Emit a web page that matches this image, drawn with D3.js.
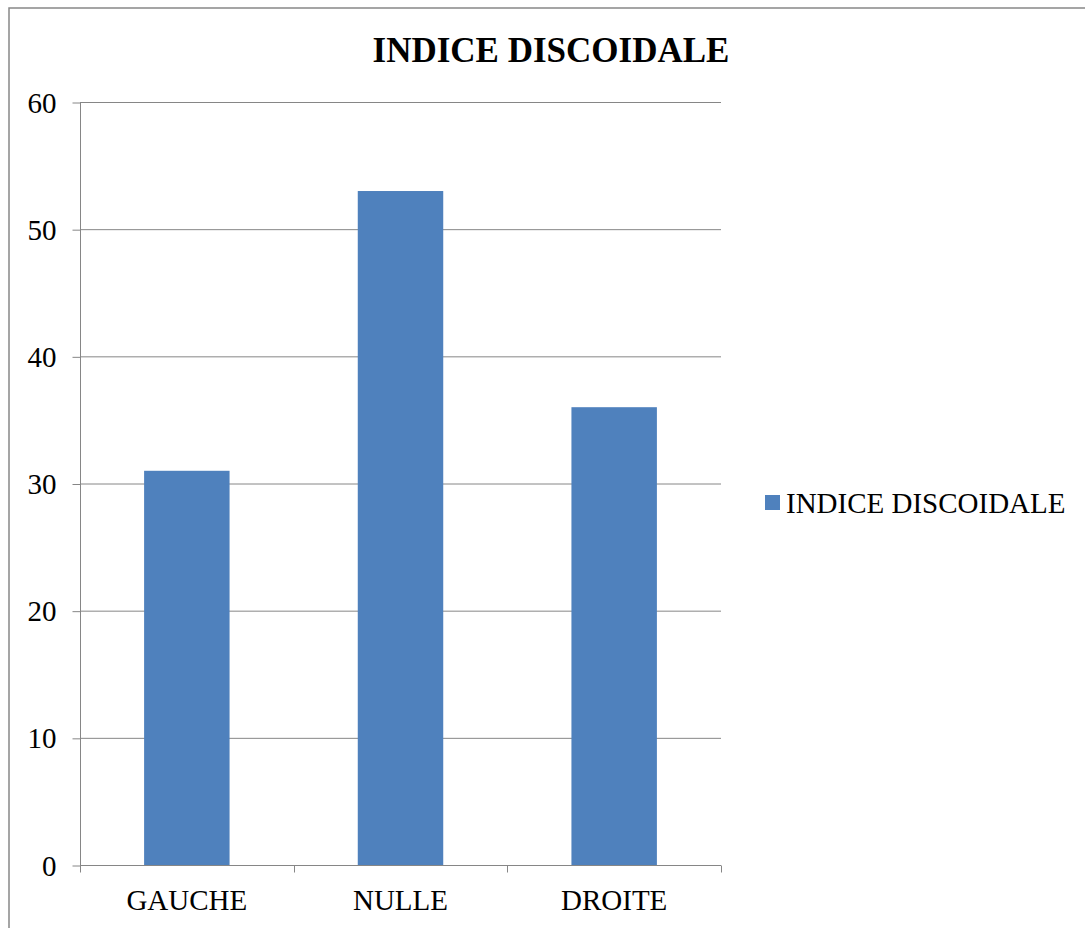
<!DOCTYPE html>
<html><head><meta charset="utf-8">
<script src="https://cdn.jsdelivr.net/npm/d3@7"></script>
<style>body{margin:0;background:#fff}svg{display:block}</style>
</head><body>
<script>
const categories = ["GAUCHE", "NULLE", "DROITE"];
const values = [31, 53, 36];
const yTicks = [0, 10, 20, 30, 40, 50, 60];
const seriesName = "INDICE DISCOIDALE";
const title = "INDICE DISCOIDALE";

(function () {
const W = 1085, H = 928;
const svg = d3.select("body").append("svg").attr("width", W).attr("height", H);
const font = "'Liberation Serif','Times New Roman',serif";

svg.append("rect").attr("x", 9).attr("y", 8).attr("width", W + 20).attr("height", H + 20)
  .attr("fill", "#fff").attr("stroke", "#888").attr("stroke-width", 1.5);

const pL = 80, pR = 721, pT = 102, pB = 865;
const x = d3.scaleBand().domain(categories).range([pL, pR]).paddingInner(0.6).paddingOuter(0.3);
const y = d3.scaleLinear().domain([0, 60]).range([pB, pT]);

// gridlines
svg.append("g").selectAll("line").data(yTicks.filter(d => d > 0)).join("line")
  .attr("x1", pL).attr("x2", pR).attr("y1", d => y(d) + 0.5).attr("y2", d => y(d) + 0.5)
  .attr("stroke", "#868686").attr("stroke-width", 1);

// y axis
const ya = svg.append("g").attr("transform", `translate(${pL + 0.5},0)`)
  .call(d3.axisLeft(y).tickValues(yTicks).tickSize(8).tickPadding(16));
ya.select(".domain").attr("stroke", "#868686").attr("d", `M0,${pT}V${pB}`);
ya.selectAll(".tick line").attr("stroke", "#868686").attr("transform", "translate(0,0.5)");
ya.selectAll("text").attr("font-family", font).attr("font-size", 29).attr("fill", "#000").attr("dy", "0.35em");

// bars
svg.append("g").selectAll("rect").data(values).join("rect")
  .attr("x", (d, i) => x(categories[i])).attr("width", x.bandwidth())
  .attr("y", d => y(d)).attr("height", d => pB - y(d))
  .attr("fill", "#4F81BD");

// x axis
const xb = d3.scaleLinear().domain([0, categories.length]).range([pL, pR]);
const xa = svg.append("g").attr("transform", `translate(0,${pB + 0.5})`);
xa.append("line").attr("x1", pL).attr("x2", pR).attr("stroke", "#868686");
xa.selectAll(".tk").data(d3.range(categories.length + 1)).join("line").attr("class", "tk")
  .attr("x1", d => Math.round(xb(d)) + 0.5).attr("x2", d => Math.round(xb(d)) + 0.5)
  .attr("y1", 0).attr("y2", 7).attr("stroke", "#868686");
xa.selectAll("text").data(categories).join("text")
  .attr("x", d => x(d) + x.bandwidth() / 2).attr("y", 44)
  .attr("text-anchor", "middle").attr("font-family", font).attr("font-size", 29).text(d => d);

// title
svg.append("text").attr("x", 551).attr("y", 62).attr("text-anchor", "middle")
  .attr("font-family", font).attr("font-size", 35).attr("font-weight", "bold").text(title);

// legend
svg.append("rect").attr("x", 765).attr("y", 495).attr("width", 15).attr("height", 15).attr("fill", "#4F81BD");
svg.append("text").attr("x", 786).attr("y", 513).attr("font-family", font).attr("font-size", 29).text(seriesName);
})();
</script>
</body></html>
